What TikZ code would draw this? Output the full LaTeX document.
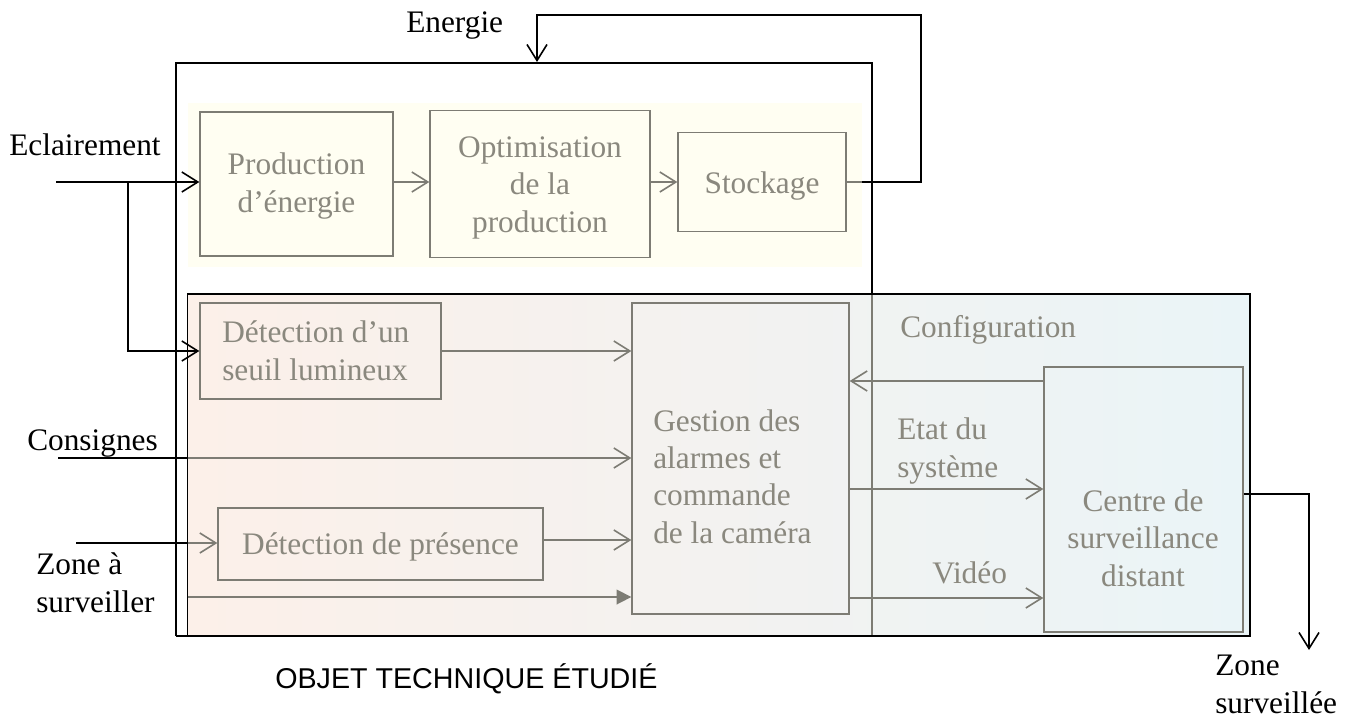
\documentclass[tikz,border=0pt]{standalone}
\usepackage{fontspec}
\setmainfont{Liberation Serif}
\newfontfamily\arialf{Liberation Sans}
\usetikzlibrary{arrows.meta}
\definecolor{boxgray}{RGB}{125,124,116}
\definecolor{txtgray}{RGB}{138,136,126}
\definecolor{ylw}{RGB}{255,254,242}
\definecolor{pinkc}{RGB}{252,240,233}
\definecolor{bluec}{RGB}{234,244,247}
\tikzset{
  blk/.style={line width=1.2pt, draw=black},
  gry/.style={line width=1.2pt, draw=boxgray},
  openarr/.style={-{Straight Barb[length=12pt,width=15pt,line width=1.2pt]}},
  fillarr/.style={-{Triangle[length=11pt,width=11pt]}},
  fbox/.style={draw=boxgray, line width=1pt, inner sep=0pt},
  glabel/.style={text=txtgray, align=left, inner sep=0pt, font=\fontsize{23.5}{28}\selectfont},
  gclabel/.style={glabel, align=center, anchor=base},
  blabel/.style={text=black, align=left, inner sep=0pt, font=\fontsize{23.5}{28}\selectfont},
}
\begin{document}
\begin{tikzpicture}[x=0.75pt,y=-0.75pt]
\useasboundingbox (0,0) rectangle (1349,722);
% backgrounds
\fill[white] (0,0) rectangle (1349,722);
\fill[ylw] (187.5,103) rectangle (862,267);
\draw[blk] (176,636) -- (176,63) -- (872,63) -- (872,294);
\shade[left color=pinkc, right color=bluec] (187.5,294) rectangle (1250,636);
\draw[boxgray, line width=1.2pt] (872,294) -- (872,636);
\draw[blk] (187.5,294) rectangle (1250,636);
\draw[blk] (176,636) -- (187.5,636);

% boxes
\node[fbox, fill=ylw, minimum width=144.75pt, minimum height=108pt] (prod) at (296.5,184) {};
\node[gclabel] (prodtxt) at (296.5,212) {Production\\d’énergie};
\node[fbox, fill=ylw, minimum width=165pt, minimum height=110.25pt] (optim) at (540,184) {};
\node[gclabel] (optimtxt) at (540,232) {Optimisation\\de la\\production};
\node[fbox, fill=ylw, minimum width=126pt, minimum height=74.25pt] (stock) at (762,182) {};
\node[gclabel] (stocktxt) at (762,193) {Stockage};
\node[fbox, minimum width=180.75pt, minimum height=72pt] (seuil) at (320.5,351) {};
\node[glabel, anchor=base west] (seuiltxt) at (222,380) {Détection d’un\\seuil lumineux};
\node[fbox, minimum width=162.75pt, minimum height=233.25pt] (gest) at (740.5,458.5) {};
\node[glabel, anchor=base west] (gtxt) at (653,543) {Gestion des\\alarmes et\\commande\\de la caméra};
\node[fbox, minimum width=149.25pt, minimum height=198.75pt] (centre) at (1143.5,499.5) {};
\node[gclabel] (ctxt) at (1143,586) {Centre de\\surveillance\\distant};
\node[fbox, minimum width=243.75pt, minimum height=54pt] (pres) at (380.5,544) {};
\node[gclabel] (prestxt) at (380.5,554) {Détection de présence};

% labels
\node[blabel, anchor=base west] (lenergie) at (406,32) {Energie};
\node[blabel, anchor=base west] (lecl) at (9,155) {Eclairement};
\node[blabel, anchor=base west] (lcons) at (27,450) {Consignes};
\node[blabel, anchor=base west] (lzone) at (36,612) {Zone à\\surveiller};
\node[glabel, anchor=base west] (lconf) at (900,337) {Configuration};
\node[glabel, anchor=base west] (letat) at (897,477) {Etat du\\système};
\node[glabel, anchor=base west] (lvideo) at (932,583) {Vidéo};
\node[blabel, anchor=base west] (lzs) at (1215,713) {Zone\\surveillée};
\node[anchor=base west, inner sep=0pt, font=\arialf\fontsize{21.5}{26}\selectfont] (lobj) at (275,688) {OBJET TECHNIQUE ÉTUDIÉ};

% coordinates
\coordinate (eclS) at (56,182);
\coordinate (eclB) at (128,182);
\coordinate (consS) at (58,458);
\coordinate (zoneS) at (76,543);
\coordinate (vidS) at (187.5,597);
\coordinate (entE) at (537,62);
\coordinate (zsE) at (1309,650);

% energy chain
\draw[gry, openarr] (prod.east |- 0,182) -- (optim.west |- 0,182);
\draw[gry, openarr] (optim.east |- stock.west) -- (stock.west);
\draw[blk, openarr] (862,182) -- (921,182) -- (921,15) -- (537,15) -- (entE);
\draw[gry] (stock.east) -- (862,182);

% eclairement
\draw[blk, openarr] (eclS) -- (prod.west |- eclS);
\draw[blk, openarr] (eclB) |- (seuil.west);

% into gestion
\draw[gry, openarr] (seuil.east) -- (gest.west |- seuil.east);
\draw[gry, openarr] (consS) -- (gest.west |- consS);
\draw[blk] (consS) -- (187.5,458);
\draw[gry, openarr] (zoneS) -- (pres.west |- zoneS);
\draw[blk] (zoneS) -- (187.5,543);
\draw[gry, openarr] (pres.east |- 0,540) -- (gest.west |- 0,540);
\draw[gry, fillarr] (vidS) -- (gest.west |- vidS);

% gestion <-> centre
\draw[gry, openarr] (centre.west |- 0,381) -- (gest.east |- 0,381);
\draw[gry, openarr] (gest.east |- 0,489) -- (centre.west |- 0,489);
\draw[gry, openarr] (gest.east |- 0,598) -- (centre.west |- 0,598);
\draw[blk, openarr] (centre.east |- 0,494) -| (zsE);
\end{tikzpicture}
\end{document}
